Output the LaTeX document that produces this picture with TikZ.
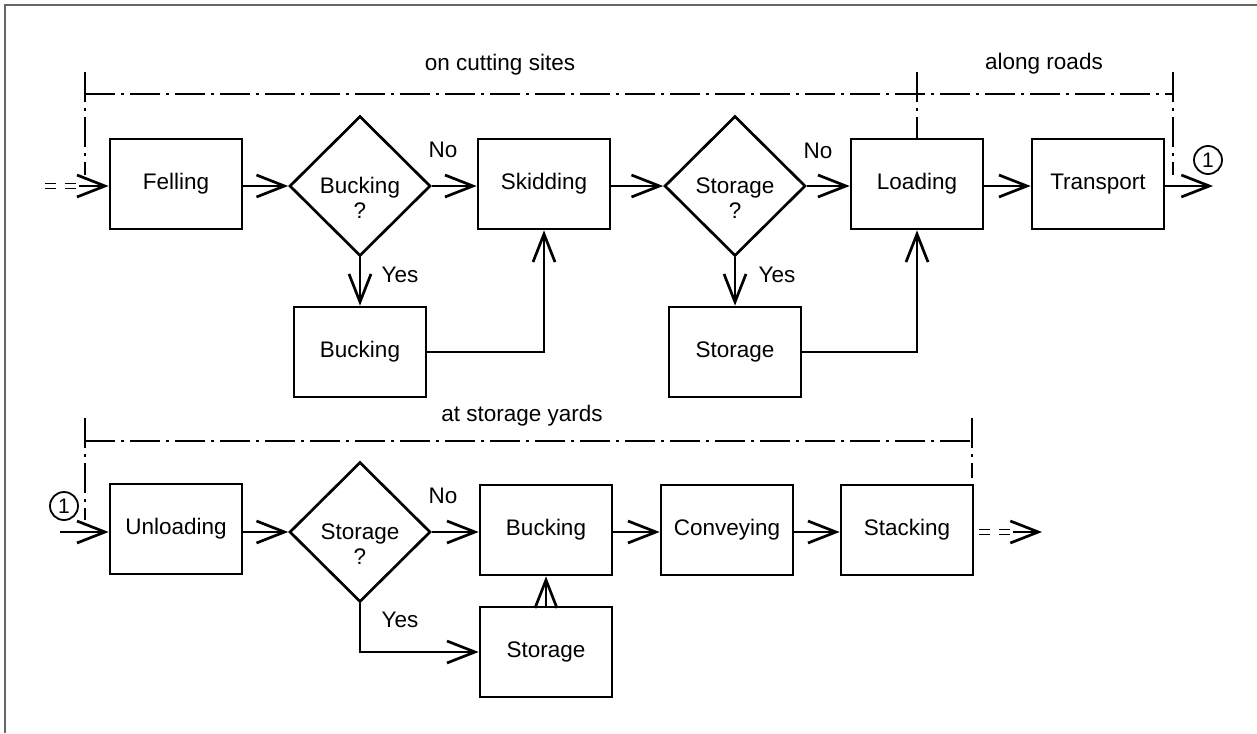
\documentclass[tikz,border=0pt]{standalone}
\usepackage{fontspec}
\setmainfont{Liberation Sans}
\usetikzlibrary{arrows.meta,shapes.geometric}
\begin{document}
\begin{tikzpicture}[x=1pt,y=-1pt,
  every node/.style={font=\fontsize{22.5}{25.5}\selectfont},
  box/.style={draw, line width=2.7pt, minimum width=132pt, minimum height=90pt, inner sep=0pt},
  dia/.style={draw, diamond, line width=2.7pt, minimum width=141pt, minimum height=140pt, inner sep=0pt},
  flow/.style={line width=2.7pt, -{Straight Barb[length=28pt,width=22pt]}},
  eqline/.style={line width=1pt, double distance=3.5pt, dash pattern=on 11pt off 9pt},
  bracket/.style={line width=2.7pt, dash pattern=on 30pt off 6pt on 3pt off 6pt},
  lbl/.style={inner sep=0pt},
  conn/.style={draw, circle, line width=1.8pt, inner sep=0pt, minimum size=28pt, font=\fontsize{21}{22}\selectfont},
  frame/.style={line width=1.2pt, draw=black!60}
]
\useasboundingbox (0,0) rectangle (1257,733);
\draw[frame] (5,733) -- (5,5) -- (1257,5);

% ---------- row 1 ----------
\node[box] (felling)   at (176,184) {Felling};
\node[dia] (d1)        at (360,186) {};
\node[lbl,align=center] (d1t) at (360,198) {Bucking\\?};
\node[box] (skid)      at (544,184) {Skidding};
\node[dia] (d2)        at (735,186) {};
\node[lbl,align=center] (d2t) at (735,198) {Storage\\?};
\node[box] (loading)   at (917,184) {Loading};
\node[box] (transport) at (1098,184) {Transport};
\node[box] (buck1)     at (360,352) {Bucking};
\node[box] (stor1)     at (735,352) {Storage};

\node[lbl] (no1)  at (443,150) {No};
\node[lbl] (no2)  at (818,151) {No};
\node[lbl] (yes1) at (400,275) {Yes};
\node[lbl] (yes2) at (777,275) {Yes};
\node[conn] (c1) at (1208,160) {1};

\node[lbl] (t1) at (500,65) {on cutting sites};
\node[lbl] (t2) at (1044,64) {along roads};

\coordinate (in1a) at (45,186);
\coordinate (in1b) at (77,186);
\coordinate (in1c) at (79,186);
\coordinate (out1) at (1213,186);

\draw[eqline] (in1a) -- (in1b);
\draw[flow] (in1c) -- (felling.west |- in1c);
\draw[flow] (felling.east |- d1) -- (d1.west);
\draw[flow] (d1.east) -- (skid.west |- d1);
\draw[flow] (d1.south) -- (buck1.north);
\draw[flow] (buck1.east) -| (skid.south);
\draw[flow] (skid.east |- d2) -- (d2.west);
\draw[flow] (d2.east) -- (loading.west |- d2);
\draw[flow] (d2.south) -- (stor1.north);
\draw[flow] (stor1.east) -| (loading.south);
\draw[flow] (loading.east |- out1) -- (transport.west |- out1);
\draw[flow] (transport.east |- out1) -- (out1);

\draw[bracket] (85,72) -- (85,175);
\draw[bracket] (85,94) -- (1173,94);
\draw[bracket] (1173,72) -- (1173,175);
\draw[bracket] (917,72) -- (loading.north);

% ---------- row 2 ----------
\node[box] (unload) at (176,529) {Unloading};
\node[dia] (d3)     at (360,532) {};
\node[lbl,align=center] (d3t) at (360,544) {Storage\\?};
\node[box] (buck2)  at (546,530) {Bucking};
\node[box] (conv)   at (727,530) {Conveying};
\node[box] (stack)  at (907,530) {Stacking};
\node[box] (stor2)  at (546,652) {Storage};

\node[lbl] (no3)  at (443,496) {No};
\node[lbl] (yes3) at (400,620) {Yes};
\node[conn] (c2) at (64,506) {1};
\node[lbl] (t3) at (522,416) {at storage yards};

\coordinate (in2) at (60,532);
\coordinate (out2a) at (979,532);
\coordinate (out2b) at (1011,532);
\coordinate (out2c) at (1013,532);
\coordinate (out2) at (1042,532);

\draw[flow] (in2) -- (unload.west |- in2);
\draw[flow] (unload.east |- d3) -- (d3.west);
\draw[flow] (d3.east) -- (buck2.west |- d3);
\draw[flow] (buck2.east |- d3) -- (conv.west |- d3);
\draw[flow] (conv.east |- d3) -- (stack.west |- d3);
\draw[eqline] (out2a) -- (out2b);
\draw[flow] (out2c) -- (out2);
\draw[flow] (d3.south) |- (stor2.west);
\draw[flow] (stor2.north) -- (buck2.south);

\draw[bracket] (85,418) -- (85,520);
\draw[bracket] (85,441) -- (972,441);
\draw[bracket] (972,418) -- (972,478);
\end{tikzpicture}
\end{document}
